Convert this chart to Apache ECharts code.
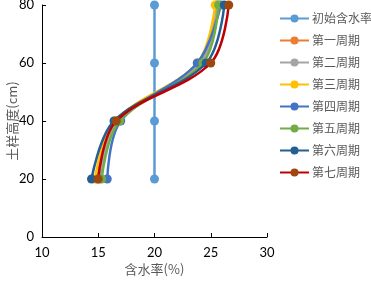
<!DOCTYPE html>
<html>
<head>
<meta charset="utf-8">
<script src="https://cdn.jsdelivr.net/npm/echarts@6/dist/echarts.min.js"></script>
<style>
  html, body { margin: 0; padding: 0; background: #fff; }
  #chart { width: 371px; height: 282px; }
</style>
</head>
<body>
<div id="chart"></div>
<script>
// sample heights (cm)
const heights = [20, 40, 60, 80];

// moisture content (%) at each height
const initial = [20, 20, 20, 20];
const period1 = [14.9, 16.7, 24.0, 25.5];
const period2 = [15.1, 16.8, 24.1, 25.6];
const period3 = [14.7, 16.5, 23.8, 25.4];
const period4 = [15.8, 17.0, 23.8, 25.9];
const period5 = [15.3, 16.9, 24.3, 25.7];
const period6 = [14.4, 16.4, 24.6, 26.2];
const period7 = [15.0, 16.6, 25.0, 26.6];

const seriesNames = ['初始含水率', '第一周期', '第二周期', '第三周期', '第四周期', '第五周期', '第六周期', '第七周期'];
const seriesValues = [initial, period1, period2, period3, period4, period5, period6, period7];
const lineColors = ['#5B9BD5', '#ED7D31', '#A5A5A5', '#FFC000', '#4472C4', '#70AD47', '#255E91', '#C00000'];
const markerColors = ['#5B9BD5', '#ED7D31', '#A5A5A5', '#FFC000', '#4472C4', '#70AD47', '#255E91', '#9E480E'];

const font = 'Lato, "Noto Sans CJK SC", sans-serif';
const cjkFont = '"Noto Sans CJK SC", sans-serif';

const chart = echarts.init(document.getElementById('chart'));

chart.setOption({
  animation: false,
  grid: { left: 42, right: 104, top: 5, bottom: 45, containLabel: false, outerBoundsMode: 'none' },
  legend: {
    orient: 'vertical',
    left: 274,
    top: 7,
    itemWidth: 29,
    itemHeight: 10,
    itemGap: 9,
    textStyle: { fontFamily: cjkFont, fontSize: 12, color: '#595959', lineHeight: 13, padding: [0, 0, 0, -2] },
    data: seriesNames,
  },
  xAxis: {
    type: 'value',
    min: 10,
    max: 30,
    interval: 5,
    name: '含水率(%)',
    nameLocation: 'middle',
    nameGap: 26,
    nameMoveOverlap: false,
    nameTextStyle: { fontFamily: cjkFont, fontSize: 13, color: '#595959' },
    axisLine: { lineStyle: { color: '#000', width: 1 } },
    axisTick: { inside: true, length: 4, lineStyle: { color: '#000' } },
    axisLabel: { fontFamily: font, fontSize: 13, color: '#000', margin: 9 },
    splitLine: { show: false },
  },
  yAxis: {
    type: 'value',
    min: 0,
    max: 80,
    interval: 20,
    name: '土样高度(cm)',
    nameLocation: 'middle',
    nameGap: 23,
    nameMoveOverlap: false,
    nameTextStyle: { fontFamily: cjkFont, fontSize: 13, color: '#595959' },
    axisLine: { show: true, lineStyle: { color: '#000', width: 1 } },
    axisTick: { show: true, inside: true, length: 4, lineStyle: { color: '#000' } },
    axisLabel: { fontFamily: font, fontSize: 13, color: '#000', margin: 8 },
    splitLine: { show: false },
  },
  series: seriesNames.map((name, i) => ({
    name,
    type: 'line',
    smooth: 0.35,
    symbol: 'circle',
    symbolSize: 9,
    data: seriesValues[i].map((v, j) => [v, heights[j]]),
    lineStyle: { width: 2.5, color: lineColors[i] },
    itemStyle: { color: markerColors[i] },
    z: 2 + i,
  })),
});
</script>
</body>
</html>
